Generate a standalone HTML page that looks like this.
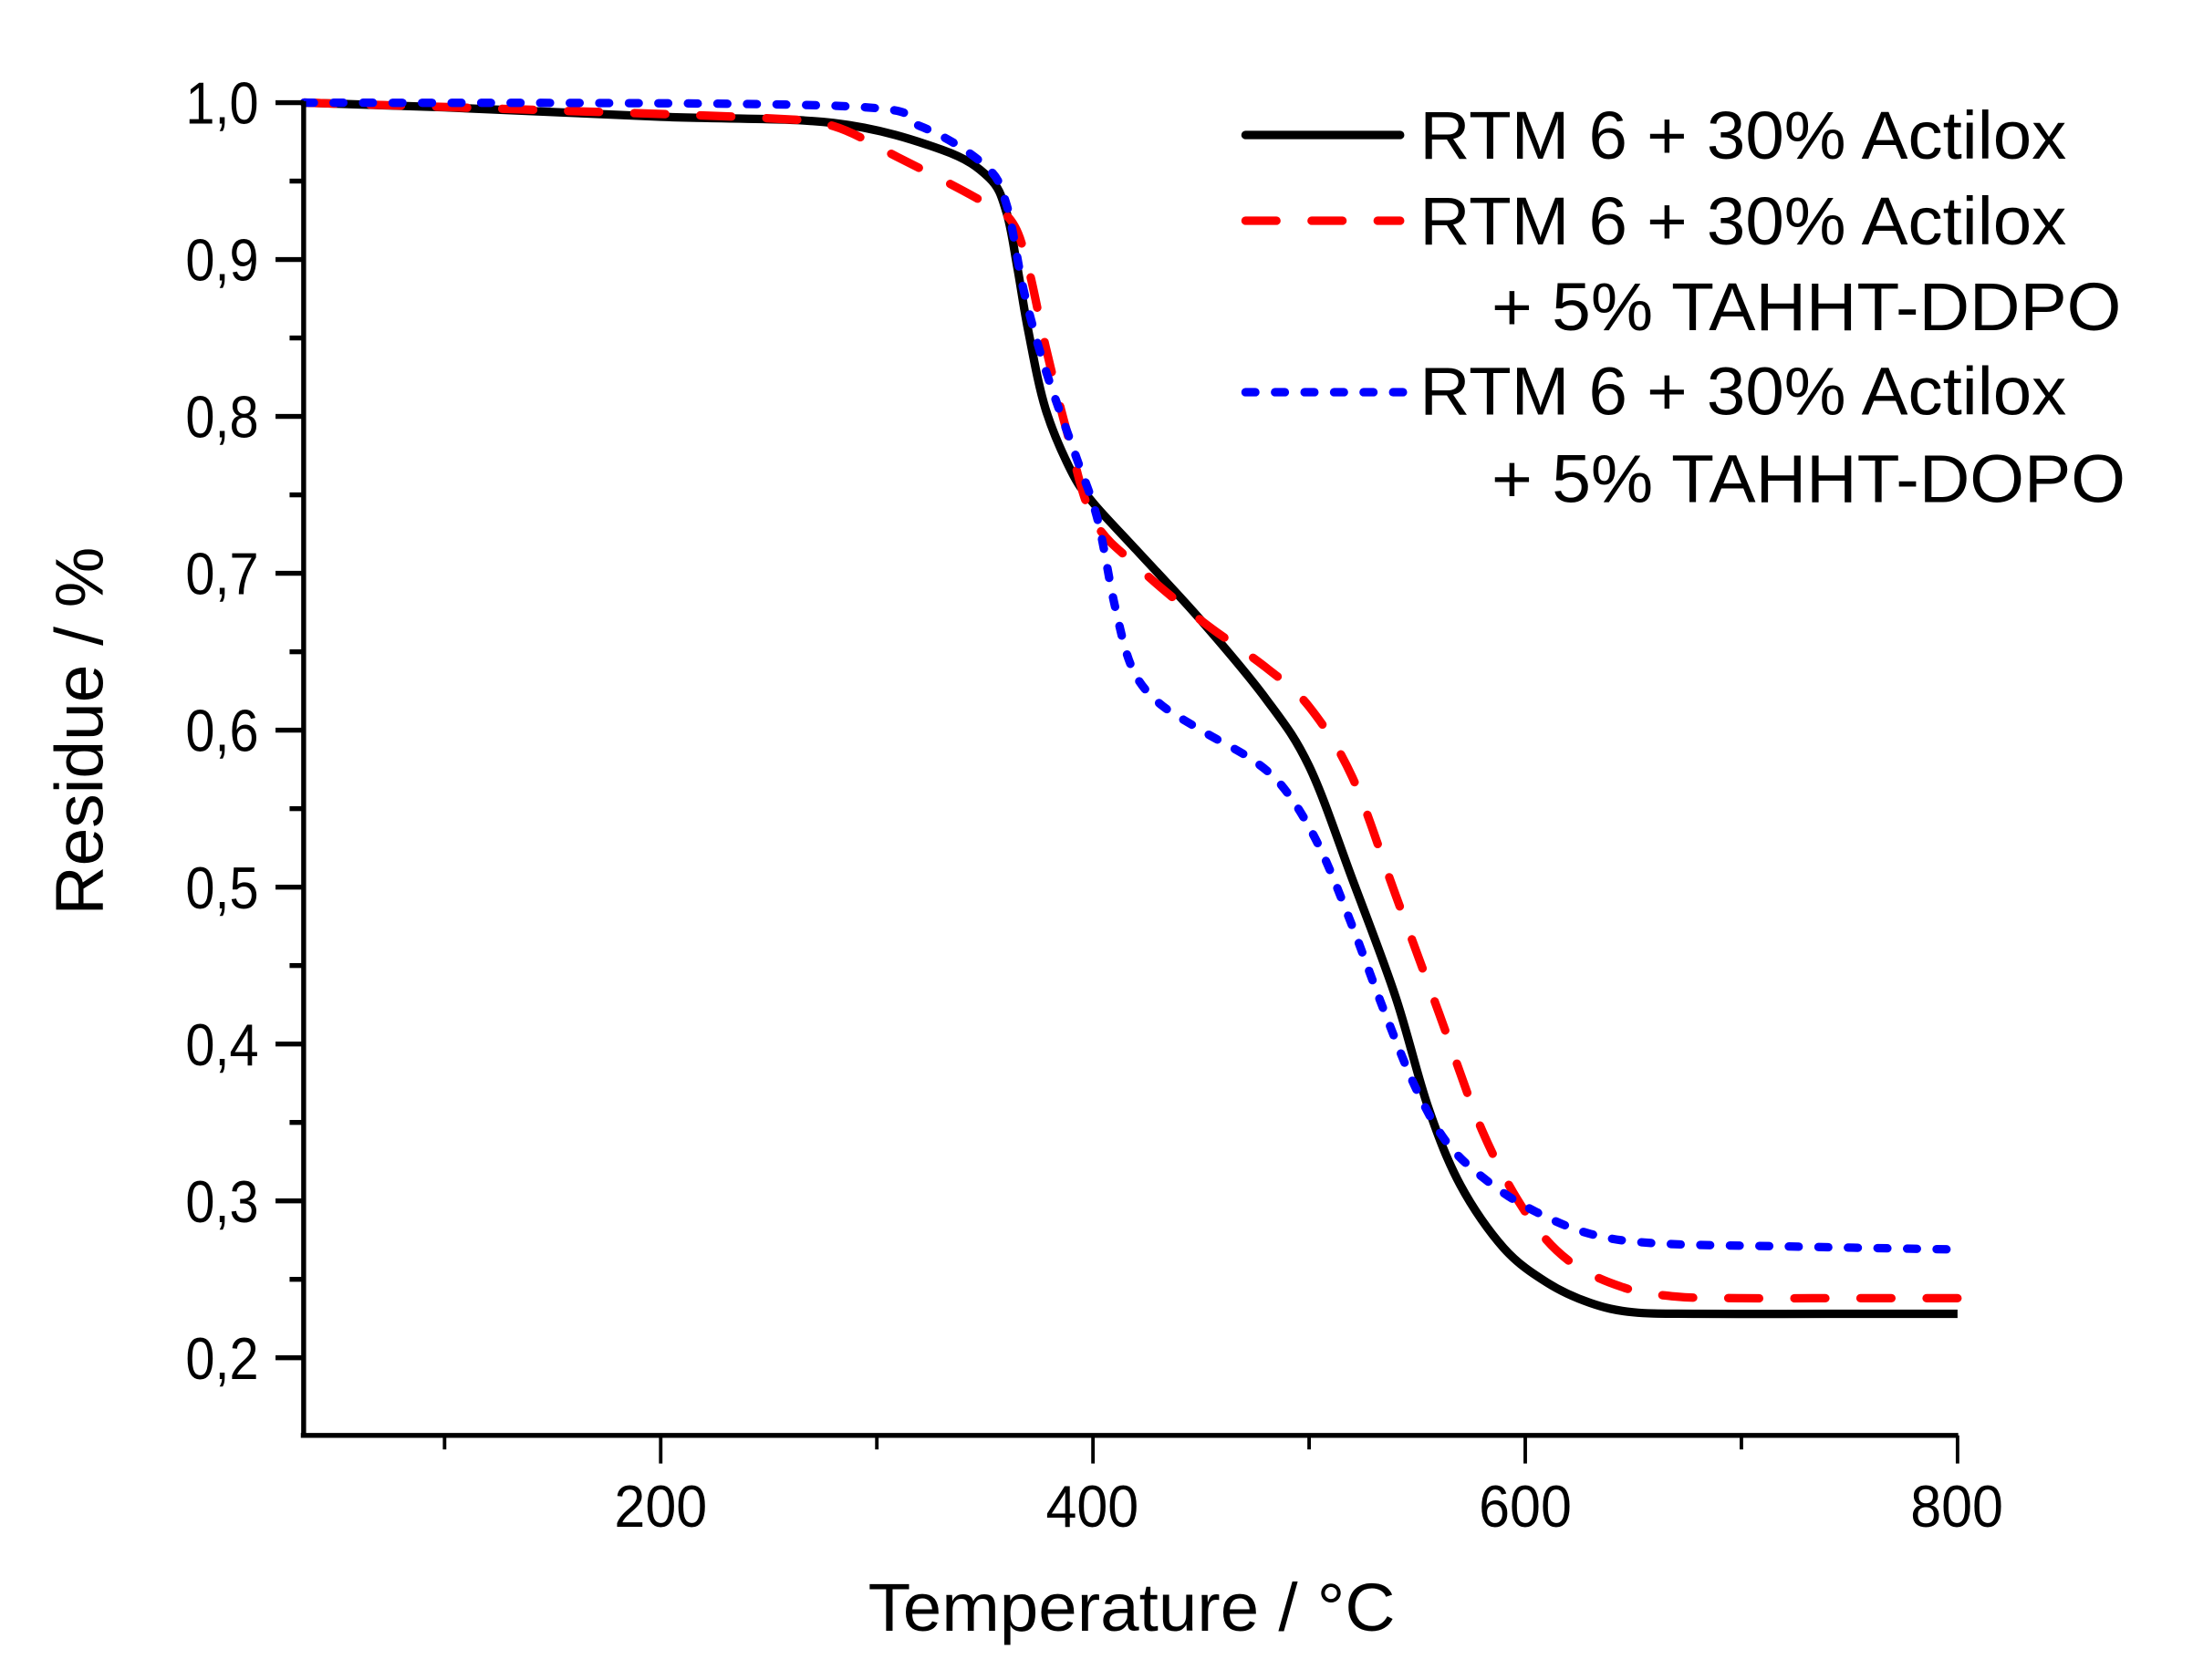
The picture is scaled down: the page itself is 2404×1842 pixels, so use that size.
<!DOCTYPE html>
<html><head><meta charset="utf-8"><style>
html,body{margin:0;padding:0;background:#fff;}
svg{display:block}
text{font-family:"Liberation Sans",Arial,sans-serif;fill:#000}
</style></head><body>
<svg id="s" width="2404" height="1842" viewBox="0 0 1560 1195" preserveAspectRatio="none" xmlns="http://www.w3.org/2000/svg">
<g id="curves" fill="none" stroke-linejoin="round"></g>
<g id="axes" stroke="#000" stroke-width="3.5" stroke-linecap="butt"></g>
<g font-size="42" id="yl"></g>
<g font-size="42">
<text x="437" y="1086" textLength="66" lengthAdjust="spacingAndGlyphs">200</text>
<text x="744" y="1086" textLength="66" lengthAdjust="spacingAndGlyphs">400</text>
<text x="1052" y="1086" textLength="66" lengthAdjust="spacingAndGlyphs">600</text>
<text x="1359" y="1086" textLength="66" lengthAdjust="spacingAndGlyphs">800</text>
</g>
<text x="805" y="1160" text-anchor="middle" font-size="48" textLength="375" lengthAdjust="spacingAndGlyphs">Temperature / °C</text>
<text transform="translate(73,520) rotate(-90)" text-anchor="middle" font-size="48" textLength="262" lengthAdjust="spacingAndGlyphs">Residue / %</text>
<g font-size="48">
<text x="1010" y="113" textLength="460" lengthAdjust="spacingAndGlyphs">RTM 6 + 30% Actilox</text>
<text x="1010" y="174" textLength="460" lengthAdjust="spacingAndGlyphs">RTM 6 + 30% Actilox</text>
<text x="1061" y="235" textLength="448" lengthAdjust="spacingAndGlyphs">+ 5% TAHHT-DDPO</text>
<text x="1010" y="295" textLength="460" lengthAdjust="spacingAndGlyphs">RTM 6 + 30% Actilox</text>
<text x="1061" y="357" textLength="451" lengthAdjust="spacingAndGlyphs">+ 5% TAHHT-DOPO</text>
</g>
<line x1="886" y1="96" x2="996" y2="96" stroke="#000" stroke-width="6" stroke-linecap="round"/>
<line x1="886" y1="157" x2="996" y2="157" stroke="#f00" stroke-width="6" stroke-dasharray="22,25" stroke-linecap="round"/>
<line x1="886" y1="279" x2="1000" y2="279" stroke="#00f" stroke-width="6" stroke-dasharray="7,14" stroke-linecap="round"/>
</svg>
<script>
var NS="http://www.w3.org/2000/svg";
function px(T){return 470+(T-200)*1.5375;}
function py(y){return 73+(1-y)*1116;}
function path(pts){
 var p=pts.map(function(a){return [px(a[0]),py(a[1])];});
 var d="M"+p[0][0]+","+p[0][1];
 for(var i=0;i<p.length-1;i++){
  var p0=p[i-1]||p[i],p1=p[i],p2=p[i+1],p3=p[i+2]||p2;
  var c1x=p1[0]+(p2[0]-p0[0])/6,c1y=p1[1]+(p2[1]-p0[1])/6;
  var c2x=p2[0]-(p3[0]-p1[0])/6,c2y=p2[1]-(p3[1]-p1[1])/6;
  d+=" C"+c1x+","+c1y+" "+c2x+","+c2y+" "+p2[0]+","+p2[1];
 }
 return d;
}
function add(g,tag,attrs){var e=document.createElementNS(NS,tag);for(var k in attrs)e.setAttribute(k,attrs[k]);g.appendChild(e);return e;}
var cg=document.getElementById("curves");
var black=[[35,1.0],[100,0.997],[200,0.991],[280,0.987],[330,0.97],[352,0.952],[360,0.93],[365,0.895],[370,0.855],[378,0.805],[390,0.765],[400,0.745],[420,0.715],[450,0.67],[480,0.62],[500,0.577],[520,0.505],[540,0.43],[555,0.36],[570,0.31],[590,0.27],[610,0.248],[630,0.235],[650,0.229],[680,0.228],[740,0.228],[800,0.228]];
var red=[[35,1.0],[150,0.995],[250,0.99],[280,0.985],[310,0.965],[345,0.94],[362,0.925],[370,0.895],[378,0.845],[388,0.79],[400,0.735],[420,0.705],[450,0.67],[480,0.64],[500,0.615],[520,0.57],[540,0.495],[560,0.42],[580,0.345],[600,0.293],[620,0.262],[645,0.245],[670,0.239],[700,0.238],[750,0.238],[800,0.238]];
var blue=[[35,1.0],[280,0.998],[320,0.985],[350,0.96],[360,0.935],[368,0.88],[378,0.83],[392,0.775],[402,0.735],[410,0.68],[418,0.64],[430,0.618],[450,0.6],[475,0.58],[490,0.56],[505,0.525],[520,0.475],[535,0.42],[550,0.37],[565,0.335],[585,0.31],[605,0.293],[630,0.279],[660,0.273],[720,0.271],[800,0.269]];
add(cg,"path",{d:path(black),stroke:"#000","stroke-width":6});
add(cg,"path",{d:path(red),stroke:"#f00","stroke-width":6,"stroke-dasharray":"22,25","stroke-linecap":"round"});
add(cg,"path",{d:path(blue),stroke:"#00f","stroke-width":6,"stroke-dasharray":"7,14","stroke-linecap":"round"});
var ag=document.getElementById("axes");
add(ag,"line",{x1:216,y1:72,x2:216,y2:1022});
add(ag,"line",{x1:214,y1:1021,x2:1393,y2:1021});
for(var i=0;i<=16;i++){var v=1-i*0.05;if(v<0.15)break;var y=py(v);var L=(i%2==0)?20:10;add(ag,"line",{x1:216-L,y1:y,x2:216,y2:y});}
for(var T=100;T<=800;T+=100){var x=px(T);var L=(T%200==0)?20:10;add(ag,"line",{x1:x,y1:1021,x2:x,y2:1021+L,"stroke-width":2.5});}
var yl=document.getElementById("yl");
for(var k=0;k<=8;k++){var v=1-k*0.1;var t=add(yl,"text",{x:132,y:py(v)+15,textLength:52,lengthAdjust:"spacingAndGlyphs"});t.textContent=v.toFixed(1).replace(".",",");}
</script>
</body></html>
